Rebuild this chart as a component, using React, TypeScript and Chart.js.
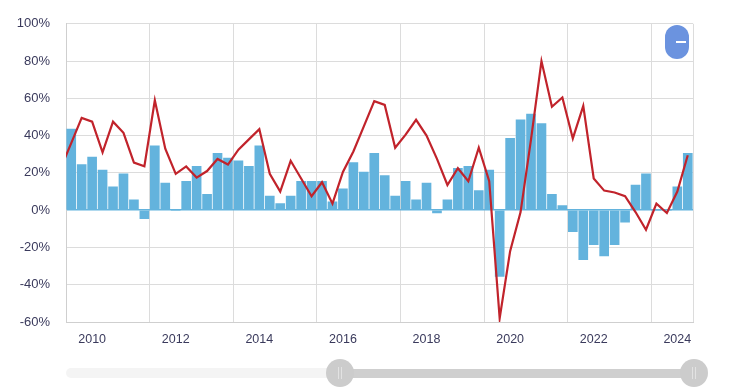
import { useEffect, useRef } from 'react';
import { Chart, registerables } from 'chart.js';
Chart.register(...registerables);

// Quarters (first one only feeds the line, which is clipped at the left edge)
const quarters = [
  '2009Q2', '2009Q3', '2009Q4',
  '2010Q1', '2010Q2', '2010Q3', '2010Q4',
  '2011Q1', '2011Q2', '2011Q3', '2011Q4',
  '2012Q1', '2012Q2', '2012Q3', '2012Q4',
  '2013Q1', '2013Q2', '2013Q3', '2013Q4',
  '2014Q1', '2014Q2', '2014Q3', '2014Q4',
  '2015Q1', '2015Q2', '2015Q3', '2015Q4',
  '2016Q1', '2016Q2', '2016Q3', '2016Q4',
  '2017Q1', '2017Q2', '2017Q3', '2017Q4',
  '2018Q1', '2018Q2', '2018Q3', '2018Q4',
  '2019Q1', '2019Q2', '2019Q3', '2019Q4',
  '2020Q1', '2020Q2', '2020Q3', '2020Q4',
  '2021Q1', '2021Q2', '2021Q3', '2021Q4',
  '2022Q1', '2022Q2', '2022Q3', '2022Q4',
  '2023Q1', '2023Q2', '2023Q3', '2023Q4',
  '2024Q1', '2024Q2',
];

// Blue bars (%)
const barValues: (number | null)[] = [
  null, 43.5, 24.5,
  28.5, 21.5, 12.5, 19.5,
  5.5, -4.5, 34.5, 14.5,
  0, 15.5, 23.5, 8.5,
  30.5, 28, 26.5, 23.5,
  34.5, 7.5, 3.5, 7.5,
  15.5, 15.5, 15.5, 4.5,
  11.5, 25.5, 20.5, 30.5,
  18.5, 7.5, 15.5, 5.5,
  14.5, -1.5, 5.5, 22.5,
  23.5, 10.5, 21.5, -35.5,
  38.5, 48.5, 51.5, 46.5,
  8.5, 2.5, -11.5, -26.5,
  -18.5, -24.5, -18.5, -6.5,
  13.5, 19.5, 0, 0,
  12.5, 30.5,
];

// Red line (%)
const lineValues: number[] = [
  22.5, 36, 49.5,
  47.5, 31, 47.5, 41.5,
  25.5, 23.5, 59, 33,
  19.5, 23.5, 17.5, 21,
  27.5, 24.5, 32.5, 38,
  43.5, 19.5, 10, 26.5,
  17, 7.5, 15, 3.5,
  20.5, 31.5, 45, 58.5,
  56.5, 33.5, 40.5, 48.5,
  40, 27.5, 13.5, 22.5,
  15.5, 33.5, 15.5, -58,
  -22, -1, 38, 80,
  55.5, 60.5, 38.5, 56,
  17, 10.5, 9.5, 7.5,
  -1, -10.5, 3.5, -1.5,
  10, 29.5,
];

const yTicks = [-60, -40, -20, 0, 20, 40, 60, 80, 100];

const BLUE = '#63b3dd';
const RED = '#c1232b';
const GRID = '#dcdcdc';
const TEXT = '#3a3a5c';

export default function App() {
  const ref = useRef<HTMLCanvasElement | null>(null);

  useEffect(() => {
    document.body.style.margin = '0';
    const canvas = ref.current;
    if (!canvas) return;

    const labelIdx: number[] = [];
    quarters.forEach((q, i) => {
      const yr = parseInt(q.slice(0, 4), 10);
      if (q.endsWith('Q1') && yr % 2 === 0) labelIdx.push(i);
    });
    const gridPos = labelIdx.map((i) => i + 5.5).filter((v) => v < quarters.length - 0.5);
    gridPos.push(quarters.length - 0.5);

    const bars = barValues
      .map((v, i) => (v === null ? null : { x: i, y: v }))
      .filter((p) => p !== null);
    const line = lineValues.map((v, i) => ({ x: i, y: v }));

    const chart = new Chart(canvas, {
      type: 'bar',
      data: {
        datasets: [
          {
            type: 'line',
            data: line as any,
            borderColor: RED,
            borderWidth: 2.2,
            pointRadius: 0,
            tension: 0,
            fill: false,
            clip: 0,
            order: 0,
          } as any,
          {
            type: 'bar',
            data: bars as any,
            backgroundColor: BLUE,
            borderWidth: 0,
            barThickness: 9,
            order: 1,
          } as any,
        ],
      },
      options: {
        responsive: false,
        animation: false,
        devicePixelRatio: 1,
        layout: { padding: { left: 0, top: 19, right: 51, bottom: 0 } },
        plugins: { legend: { display: false }, tooltip: { enabled: false } },
        scales: {
          x: {
            type: 'linear',
            offset: false,
            min: 0.5,
            max: quarters.length - 0.5,
            afterBuildTicks: (scale: any) => {
              const vals = [...labelIdx, ...gridPos].sort((a, b) => a - b);
              scale.ticks = vals.map((v) => ({ value: v }));
            },
            afterFit: (scale: any) => {
              scale.height = 70;
            },
            ticks: {
              autoSkip: false,
              maxRotation: 0,
              padding: 10,
              color: TEXT,
              font: { family: "'Liberation Sans', Arial", size: 12.5 },
              callback: (v: any) => {
                if (Number.isInteger(v)) {
                  const q = quarters[v];
                  return q ? q.slice(0, 4) : '';
                }
                return '';
              },
            },
            grid: {
              offset: false,
              drawTicks: false,
              color: (ctx: any) =>
                ctx.tick && !Number.isInteger(ctx.tick.value) ? GRID : 'rgba(0,0,0,0)',
              lineWidth: 1,
            },
            border: { display: true, color: '#cfcfcf', width: 1 },
          },
          y: {
            min: -60,
            max: 100,
            afterBuildTicks: (scale: any) => {
              scale.ticks = yTicks.map((v) => ({ value: v }));
            },
            afterFit: (scale: any) => {
              scale.width = 66;
            },
            ticks: {
              padding: 16,
              color: TEXT,
              font: { family: "'Liberation Sans', Arial", size: 13 },
              callback: (v: any) => `${v}%`,
            },
            grid: {
              drawTicks: false,
              color: (ctx: any) => (ctx.tick && ctx.tick.value === 0 ? BLUE : GRID),
              lineWidth: (ctx: any) => (ctx.tick && ctx.tick.value === 0 ? 1.5 : 1),
            },
            border: { display: true, color: '#cfcfcf', width: 1 },
          },
        },
      },
    });
    return () => chart.destroy();
  }, []);

  const handle = (cx: number) => (
    <div
      style={{
        position: 'absolute',
        left: cx - 14,
        top: 359,
        width: 28,
        height: 28,
        borderRadius: '50%',
        background: '#cccccc',
      }}
    >
      <div style={{ position: 'absolute', left: 12, top: 8, width: 1, height: 12, background: '#e2e2e2' }} />
      <div style={{ position: 'absolute', left: 15, top: 8, width: 1, height: 12, background: '#e2e2e2' }} />
    </div>
  );

  return (
    <div style={{ position: 'relative', width: 744, height: 392, overflow: 'hidden', background: '#fff' }}>
      <canvas ref={ref} width={744} height={392} style={{ display: 'block', width: 744, height: 392 }} />
      <div
        style={{
          position: 'absolute',
          left: 665,
          top: 25,
          width: 24,
          height: 34,
          borderRadius: 12,
          background: '#6b93df',
        }}
      >
        <div style={{ position: 'absolute', left: 11, top: 16, width: 10, height: 1.5, background: '#ffffff' }} />
      </div>
      <div
        style={{
          position: 'absolute',
          left: 66,
          top: 368,
          width: 280,
          height: 10,
          borderRadius: 5,
          background: '#f4f4f4',
        }}
      />
      <div
        style={{
          position: 'absolute',
          left: 340,
          top: 369,
          width: 354,
          height: 9,
          background: '#cfcfcf',
        }}
      />
      {handle(340)}
      {handle(694)}
    </div>
  );
}
